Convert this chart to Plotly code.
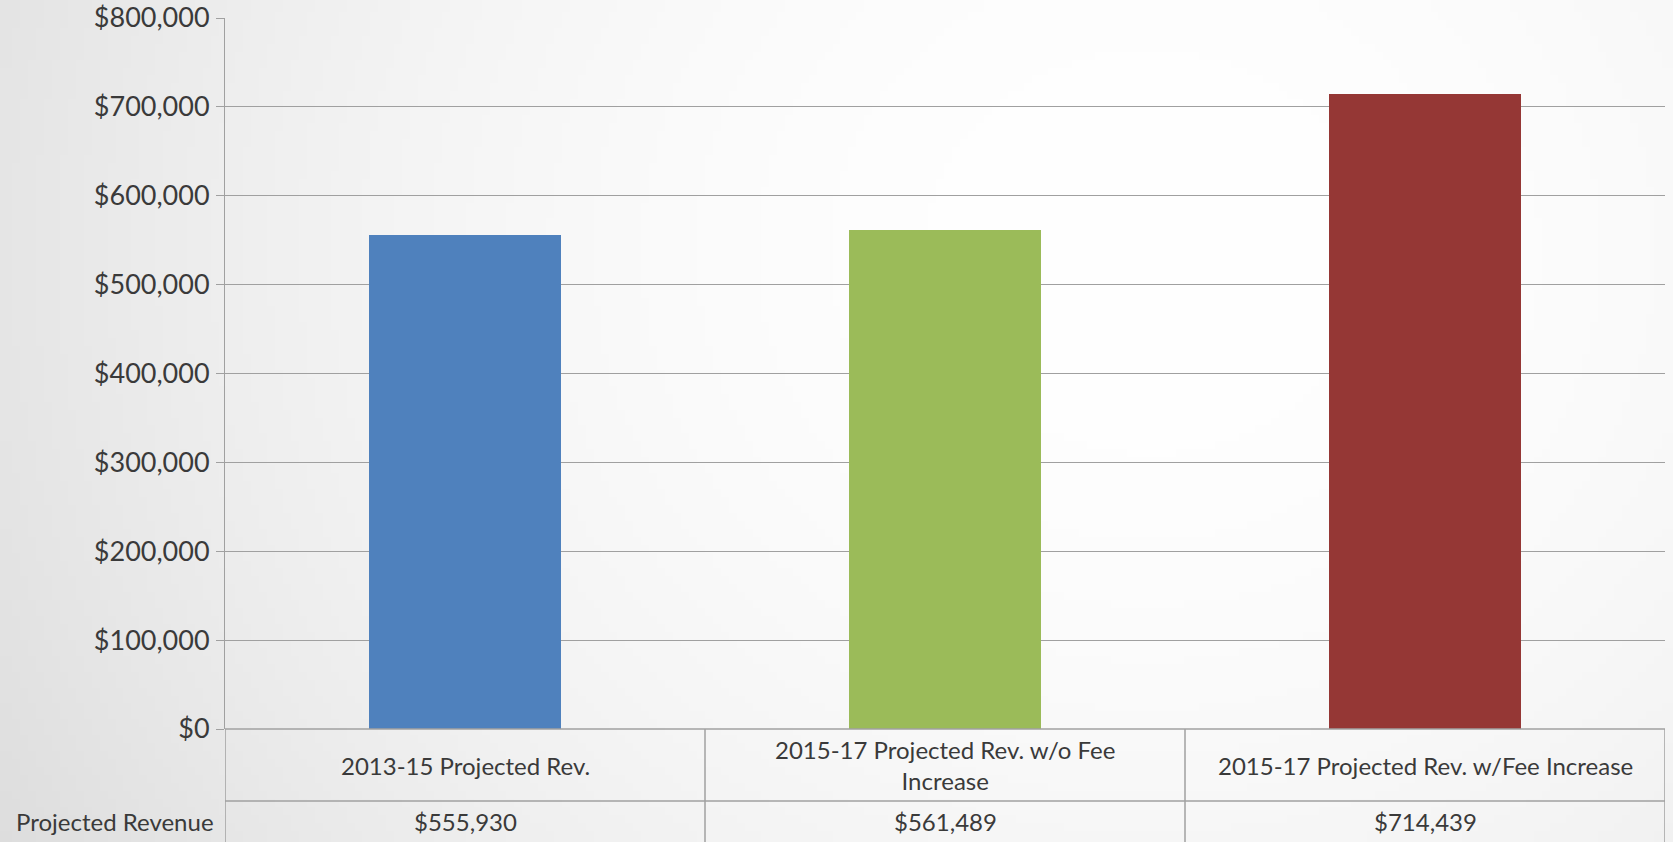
import base64, struct, zlib
import numpy as np
import plotly.graph_objects as go

# ---- data ----
categories = ["2013-15 Projected Rev.",
              "2015-17 Projected Rev. w/o Fee<br>Increase",
              "2015-17 Projected Rev. w/Fee Increase"]
revenue = [555930, 561489, 714439]
revenue_labels = ["$555,930", "$561,489", "$714,439"]
row_label = "Projected Revenue"
bar_colors = ["#4F81BD", "#9BBB59", "#953735"]
y_ticks = [0, 100000, 200000, 300000, 400000, 500000, 600000, 700000, 800000]
y_tick_text = ["$0", "$100,000", "$200,000", "$300,000", "$400,000",
               "$500,000", "$600,000", "$700,000", "$800,000"]

W, H = 1673, 842
ML, MR, MT, MB = 225, 8, 18, 113
PW, PH = W - ML - MR, H - MT - MB

# ---- background radial gradient as PNG ----
def png_uri(arr):
    h, w, _ = arr.shape
    raw = b"".join(b"\x00" + arr[i].tobytes() for i in range(h))
    def chunk(t, d):
        c = struct.pack(">I", len(d)) + t + d
        return c + struct.pack(">I", zlib.crc32(t + d) & 0xffffffff)
    png = b"\x89PNG\r\n\x1a\n" + chunk(b"IHDR", struct.pack(">IIBBBBB", w, h, 8, 2, 0, 0, 0)) \
        + chunk(b"IDAT", zlib.compress(raw, 9)) + chunk(b"IEND", b"")
    return "data:image/png;base64," + base64.b64encode(png).decode()

gw, gh = 210, 106
xs = np.linspace(0, W, gw)[None, :]
ys = np.linspace(0, H, gh)[:, None]
d = np.sqrt(((xs - 1150) / 1100) ** 2 + ((ys - 250) / 1000) ** 2)
val = 255 - 23 * np.clip(d, 0, 1.4) ** 2
img = np.clip(val, 0, 255).astype(np.uint8)
img = np.stack([img, img, img], axis=-1)

fig = go.Figure()
fig.add_trace(go.Bar(x=[0, 1, 2], y=revenue, marker=dict(color=bar_colors, line=dict(width=0)),
                     width=0.4, hoverinfo="skip"))

font = "Lato, 'Open Sans', sans-serif"
txt = "#3a3a3a"
grid = "#a0a0a0"
FS = 24

fig.update_layout(
    width=W, height=H,
    margin=dict(l=ML, r=MR, t=MT, b=MB, autoexpand=False),
    paper_bgcolor="white", plot_bgcolor="rgba(0,0,0,0)",
    showlegend=False,
    font=dict(family=font, size=FS, color=txt),
    images=[dict(source=png_uri(img), xref="paper", yref="paper",
                 x=-ML / PW, y=1 + MT / PH, sizex=W / PW, sizey=H / PH,
                 sizing="stretch", layer="below")],
)
fig.update_xaxes(range=[-0.5, 2.5], showticklabels=False, showgrid=False, zeroline=False,
                 showline=False, ticks="", fixedrange=True, automargin=False)
fig.update_yaxes(range=[0, 800000], tickmode="array", tickvals=y_ticks, ticktext=y_tick_text,
                 showgrid=True, gridcolor=grid, gridwidth=1, zeroline=False,
                 showline=True, linecolor=grid, linewidth=1, automargin=False,
                 ticks="outside", ticklen=8, tickcolor=grid, ticklabelstandoff=1,
                 tickfont=dict(family=font, size=27, color=txt))

# ---- data table below the plot ----
row1_bot = -(801 - 729) / PH
row2_bot = -(842 - 729) / PH
shapes = []
def line(x0, y0, x1, y1, xref="x"):
    shapes.append(dict(type="line", xref=xref, yref="paper", x0=x0, y0=y0, x1=x1, y1=y1,
                       line=dict(color=grid, width=1.5)))
line(-0.5 - 8 / (PW / 3), 0, 2.5, 0)
for xv in [-0.5, 0.5, 1.5, 2.5]:
    line(xv, 0, xv, row2_bot)
xl = -0.5 - (ML - 11) / (PW / 3)
line(xl, row1_bot, 2.5, row1_bot)
line(xl, row1_bot, xl, row2_bot)

annotations = []
for i, c in enumerate(categories):
    annotations.append(dict(x=i, y=row1_bot / 2, xref="x", yref="paper", text=c, showarrow=False,
                            xanchor="center", yanchor="middle", align="center",
                            font=dict(family=font, size=FS, color=txt)))
    annotations.append(dict(x=i, y=(row1_bot + row2_bot) / 2, xref="x", yref="paper",
                            text=revenue_labels[i], showarrow=False,
                            xanchor="center", yanchor="middle",
                            font=dict(family=font, size=FS, color=txt)))
annotations.append(dict(x=(14 - ML) / PW, y=(row1_bot + row2_bot) / 2, xref="paper", yref="paper",
                        text=row_label, showarrow=False, xanchor="left", yanchor="middle",
                        font=dict(family=font, size=FS, color=txt)))
fig.update_layout(shapes=shapes, annotations=annotations)

fig.write_html("out.html", config={"displayModeBar": False},
               post_script="document.body.style.margin='0';document.body.style.overflow='hidden';")
